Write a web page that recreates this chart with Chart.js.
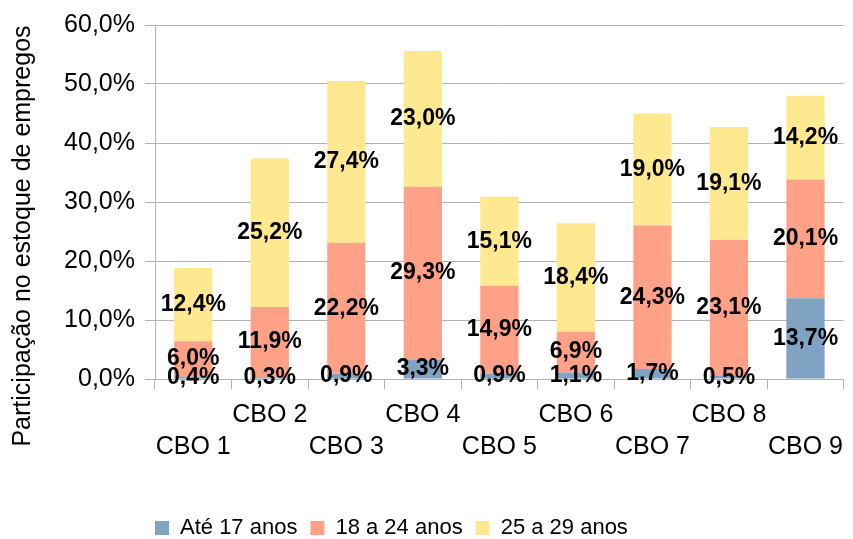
<!DOCTYPE html>
<html>
<head>
<meta charset="utf-8">
<script src="https://cdn.jsdelivr.net/npm/chart.js@4"></script>
<style>
  html, body { margin: 0; padding: 0; background: #fff; }
  #wrap { width: 853px; height: 539px; }
</style>
</head>
<body>
<div id="wrap"><canvas id="cbochart"></canvas></div>
<script>
const categories = ['CBO 1', 'CBO 2', 'CBO 3', 'CBO 4', 'CBO 5', 'CBO 6', 'CBO 7', 'CBO 8', 'CBO 9'];
const ate17 = [0.4, 0.3, 0.9, 3.3, 0.9, 1.1, 1.7, 0.5, 13.7];
const de18a24 = [6.0, 11.9, 22.2, 29.3, 14.9, 6.9, 24.3, 23.1, 20.1];
const de25a29 = [12.4, 25.2, 27.4, 23.0, 15.1, 18.4, 19.0, 19.1, 14.2];
const yTickLabels = ['0,0%', '10,0%', '20,0%', '30,0%', '40,0%', '50,0%', '60,0%'];

const fontFamily = "'Liberation Sans', Arial, sans-serif";
const gridGray = '#b3b3b3';

function pct(v) {
	return v.toFixed(1).replace('.', ',') + '%';
}

// value labels in the middle of each segment
const segmentLabels = {
	id: 'segmentLabels',
	afterDatasetsDraw(chart) {
		const ctx = chart.ctx;
		ctx.save();
		ctx.font = 'bold 23px ' + fontFamily;
		ctx.fillStyle = '#000';
		ctx.textAlign = 'center';
		ctx.textBaseline = 'middle';
		chart.data.datasets.forEach((ds, di) => {
			chart.getDatasetMeta(di).data.forEach((bar, i) => {
				ctx.fillText(pct(ds.data[i]), bar.x, (bar.y + bar.base) / 2);
			});
		});
		ctx.restore();
	}
};

// axis title is longer than the axis itself, so draw it by hand
const yTitle = {
	id: 'yTitle',
	afterDraw(chart) {
		const ctx = chart.ctx;
		ctx.save();
		ctx.translate(23, 236);
		ctx.rotate(-Math.PI / 2);
		ctx.font = '25px ' + fontFamily;
		ctx.fillStyle = '#000';
		ctx.textAlign = 'center';
		ctx.textBaseline = 'middle';
		ctx.fillText('Participação no estoque de empregos', 0, 0);
		ctx.restore();
	}
};

// legend starts under the plot area and sits a bit lower
const nudgeLegend = {
	id: 'nudgeLegend',
	afterLayout(chart) {
		const lg = chart.legend;
		lg.left = chart.chartArea.left - lg.options.labels.padding;
		lg.top += 10;
	}
};

const cbodata = {
	labels: categories,
	datasets: [
		{ label: 'Até 17 anos', data: ate17, backgroundColor: '#80a2c3', borderWidth: 0 },
		{ label: '18 a 24 anos', data: de18a24, backgroundColor: '#ffa187', borderWidth: 0 },
		{ label: '25 a 29 anos', data: de25a29, backgroundColor: '#ffe990', borderWidth: 0 }
	]
};

const cboconfig = {
	type: 'bar',
	data: cbodata,
	options: {
		responsive: true,
		maintainAspectRatio: false,
		animation: false,
		datasets: {
			bar: { categoryPercentage: 1.0, barPercentage: 0.5 }
		},
		layout: { padding: { top: 25, left: 0, right: 0, bottom: 0 } },
		scales: {
			x: {
				stacked: true,
				grid: { offset: true, drawOnChartArea: false, tickLength: 10, color: gridGray },
				border: { color: gridGray },
				ticks: {
					autoSkip: false,
					maxRotation: 0,
					padding: 10,
					color: '#000',
					font: { family: fontFamily, size: 25, lineHeight: 1.28 },
					callback: (v, i) => (i % 2 ? categories[i] : ['', categories[i]])
				},
				afterFit: (s) => { s.height = 115; }
			},
			y: {
				stacked: true,
				min: 0,
				max: 60,
				grid: { color: gridGray, tickLength: 10 },
				border: { color: gridGray },
				ticks: {
					stepSize: 10,
					padding: 10,
					color: '#000',
					font: { family: fontFamily, size: 25 },
					callback: (v, i) => yTickLabels[i]
				},
				afterFit: (s) => { s.width = 155; }
			}
		},
		plugins: {
			legend: {
				position: 'bottom',
				align: 'start',
				labels: {
					boxWidth: 14,
					boxHeight: 14,
					padding: 13,
					color: '#000',
					font: { family: fontFamily, size: 22 }
				}
			},
			tooltip: { enabled: false }
		}
	},
	plugins: [segmentLabels, yTitle, nudgeLegend]
};

const cbochart = new Chart(
	document.getElementById('cbochart'),
	cboconfig
);
</script>
</body>
</html>
